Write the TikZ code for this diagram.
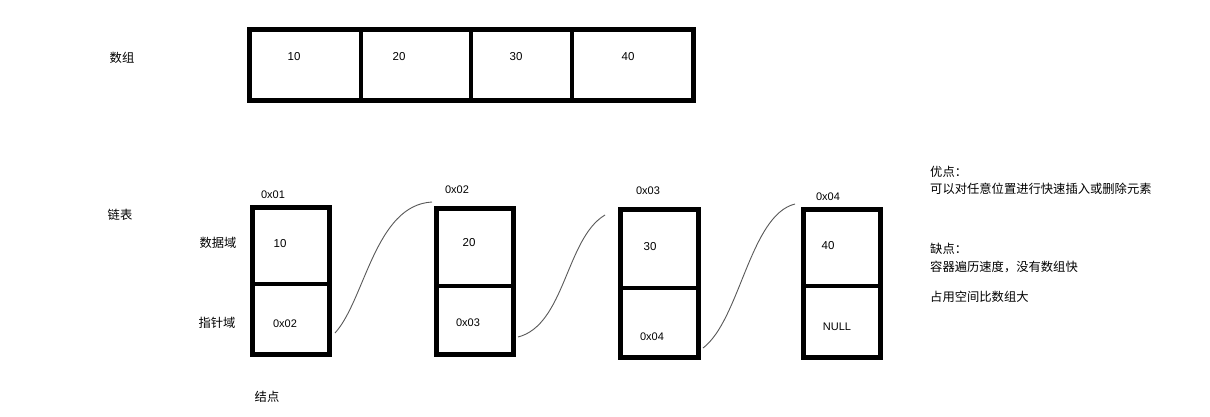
\documentclass[tikz,border=0pt]{standalone}
\usepackage{fontspec}
\setmainfont{Liberation Sans}
\newfontfamily\cjk{Noto Sans CJK SC}
\begin{document}
\begin{tikzpicture}[x=1pt,y=-1pt,
  boxnode/.style={draw=black,line width=5pt,inner sep=0pt,outer sep=0pt,rectangle},
  divline/.style={line width=4pt,draw=black},
  numtxt/.style={font=\fontsize{11.5}{13}\selectfont,inner sep=0pt},
  hextxt/.style={font=\fontsize{11}{13}\selectfont,inner sep=0pt},
  cjktxt/.style={font=\cjk\fontsize{12.3}{14}\selectfont,inner sep=0pt},
  notetxt/.style={font=\cjk\fontsize{12.3}{14}\selectfont,inner sep=0pt,anchor=west},
  linkcurve/.style={draw=black!65,line width=0.9pt}]
\useasboundingbox[fill=white] (0,0) rectangle (1210,416);

% ---------- array ----------
\node[cjktxt] (arrlabel) at (122,58) {数组};
\node[boxnode,minimum width=444pt,minimum height=71pt] (arr) at (471.5,65) {};
\coordinate (d1t) at (361,32); \coordinate (d1b) at (361,100);
\coordinate (d2t) at (471,30); \coordinate (d2b) at (471,100);
\coordinate (d3t) at (572,30); \coordinate (d3b) at (572,100);
\draw[divline] (d1t) -- (d1b);
\draw[divline] (d2t) -- (d2b);
\draw[divline] (d3t) -- (d3b);
\node[numtxt] (a10) at (294,57) {10};
\node[numtxt] (a20) at (399,57) {20};
\node[numtxt] (a30) at (516,57) {30};
\node[numtxt] (a40) at (628,57) {40};

% ---------- linked list ----------
\node[cjktxt] (lllabel) at (120,215) {链表};
\node[cjktxt] (datalabel) at (218,243) {数据域};
\node[cjktxt] (ptrlabel) at (217,323) {指针域};
\node[cjktxt] (nodelabel) at (267,397) {结点};

% node 1
\node[boxnode,minimum width=77pt,minimum height=147pt] (n1) at (291,281) {};
\coordinate (n1dl) at (252,284); \coordinate (n1dr) at (330,284);
\draw[divline] (n1dl) -- (n1dr);
\node[hextxt] (h1) at (273,195) {0x01};
\node[numtxt] (v1) at (280,244) {10};
\node[hextxt] (p1) at (285,324) {0x02};

% node 2
\node[boxnode,minimum width=77pt,minimum height=146pt] (n2) at (475,281.5) {};
\coordinate (n2dl) at (436,286); \coordinate (n2dr) at (514,286);
\draw[divline] (n2dl) -- (n2dr);
\node[hextxt] (h2) at (457,190) {0x02};
\node[numtxt] (v2) at (469,243) {20};
\node[hextxt] (p2) at (468,323) {0x03};

% node 3
\node[boxnode,minimum width=78pt,minimum height=148pt] (n3) at (659.5,283.5) {};
\coordinate (n3dl) at (620,288); \coordinate (n3dr) at (699,288);
\draw[divline] (n3dl) -- (n3dr);
\node[hextxt] (h3) at (648,191) {0x03};
\node[numtxt] (v3) at (650,247) {30};
\node[hextxt] (p3) at (652,337) {0x04};

% node 4
\node[boxnode,minimum width=77pt,minimum height=148pt] (n4) at (842,283.5) {};
\coordinate (n4dl) at (803,286); \coordinate (n4dr) at (881,286);
\draw[divline] (n4dl) -- (n4dr);
\node[hextxt] (h4) at (828,197) {0x04};
\node[numtxt] (v4) at (828,246) {40};
\node[hextxt] (p4) at (837,327) {NULL};

% links
\coordinate (c1s) at (335,333); \coordinate (c1e) at (432,202);
\coordinate (c2s) at (518,337); \coordinate (c2e) at (605,215);
\coordinate (c3s) at (703,348); \coordinate (c3e) at (795,204);
\draw[linkcurve] (c1s) .. controls (365,300) and (375,205) .. (c1e);
\draw[linkcurve] (c2s) .. controls (565,325) and (566,238) .. (c2e);
\draw[linkcurve] (c3s) .. controls (740,320) and (750,215) .. (c3e);

% notes
\node[notetxt] (adv) at (930,172) {优点：};
\node[notetxt] (advtxt) at (930,189) {可以对任意位置进行快速插入或删除元素};
\node[notetxt] (dis) at (930,249) {缺点：};
\node[notetxt] (distxt) at (930,267) {容器遍历速度，没有数组快};
\node[notetxt] (dis2) at (930,297) {占用空间比数组大};
\end{tikzpicture}
\end{document}
